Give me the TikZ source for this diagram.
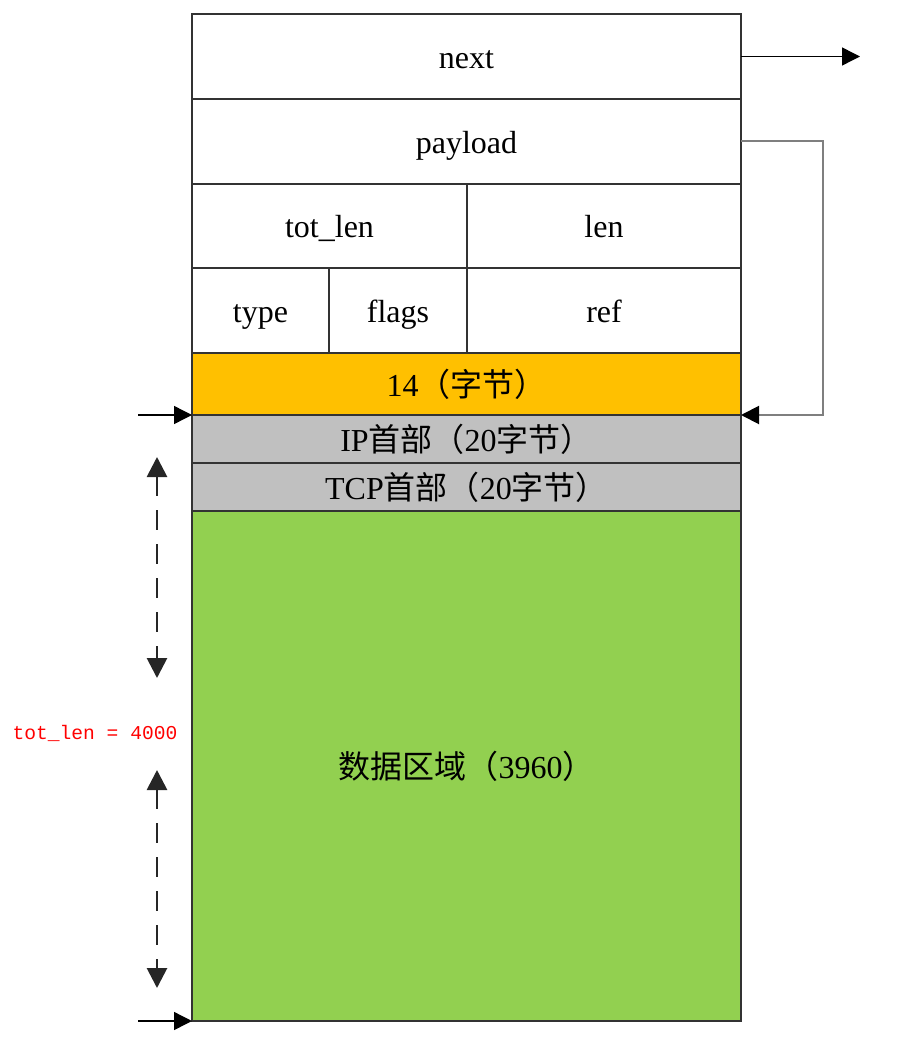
\documentclass[tikz,border=0pt]{standalone}
\usepackage{fontspec}
\setmainfont{Liberation Serif}
\setmonofont{Liberation Mono}
\newfontfamily\cjk{Noto Sans CJK SC}
\usetikzlibrary{arrows.meta}
\definecolor{lineC}{HTML}{333333}
\definecolor{hdrorange}{HTML}{FFC000}
\definecolor{hdrgray}{HTML}{C0C0C0}
\definecolor{datagreen}{HTML}{92D050}
\definecolor{conngray}{HTML}{7F7F7F}
\tikzset{
  cell/.style={draw=lineC, line width=0.8pt, inner sep=0pt, outer sep=0pt, text height=13.5pt, text depth=1.5pt, font=\fontsize{16}{18}\selectfont},
  arr/.style={line width=0.7pt, -{Triangle[length=9pt,width=9pt]}},
  darr/.style={draw=black!85, line width=1.4pt, dash pattern=on 10pt off 7pt, {Triangle[length=10pt,width=10pt]}-{Triangle[length=10pt,width=10pt]}},
  conn/.style={draw=conngray, line width=1pt, -{Triangle[length=9pt,width=9pt,fill=black,color=black]}}
}
\begin{document}
\begin{tikzpicture}[x=0.5pt,y=-0.5pt]
\useasboundingbox (0,0) rectangle (908,1059);
% cells
\node[cell, minimum width=274.5pt, minimum height=42.5pt] (next) at (466.5,56.5) {next};
\node[cell, minimum width=274.5pt, minimum height=42.5pt] (payload) at (466.5,141.5) {payload};
\node[cell, minimum width=137.5pt, minimum height=42pt] (totlen) at (329.5,226) {tot\_len};
\node[cell, minimum width=137pt, minimum height=42pt] (len) at (604,226) {len};
\node[cell, minimum width=68.5pt, minimum height=42.5pt] (type) at (260.5,310.5) {type};
\node[cell, minimum width=69pt, minimum height=42.5pt] (flags) at (398,310.5) {flags};
\node[cell, minimum width=137pt, minimum height=42.5pt] (ref) at (604,310.5) {ref};
\node[cell, fill=hdrorange, minimum width=274.5pt, minimum height=31pt] (eth) at (466.5,384) {14{\cjk（字节）}};
\node[cell, fill=hdrgray, minimum width=274.5pt, minimum height=24pt] (ip) at (466.5,439) {IP{\cjk 首部（}20{\cjk 字节）}};
\node[cell, fill=hdrgray, minimum width=274.5pt, minimum height=24pt] (tcp) at (466.5,487) {TCP{\cjk 首部（}20{\cjk 字节）}};
\node[cell, fill=datagreen, minimum width=274.5pt, minimum height=255pt] (data) at (466.5,766) {{\cjk 数据区域（}3960{\cjk ）}};
% coordinates
\coordinate (nextend) at (860,56.5);
\coordinate (pright) at (823,141.5);
\coordinate (lefttop) at (138,415);
\coordinate (leftbot) at (138,1021);
\coordinate (d1a) at (157,457);
\coordinate (d1b) at (157,678);
\coordinate (d2a) at (157,770);
\coordinate (d2b) at (157,988);
% connectors
\draw[arr] (next.east) -- (nextend);
\draw[conn] (payload.east) -- (pright) |- (ip.north east);
\draw[arr] (lefttop) -- (ip.north west);
\draw[arr] (leftbot) -- (data.south west);
\draw[darr] (d1a) -- (d1b);
\draw[darr] (d2a) -- (d2b);
\node[text=red, font=\ttfamily\fontsize{9.8}{11}\selectfont, inner sep=0pt] (lbl) at (95,733) {tot\_len = 4000};
\end{tikzpicture}
\end{document}
